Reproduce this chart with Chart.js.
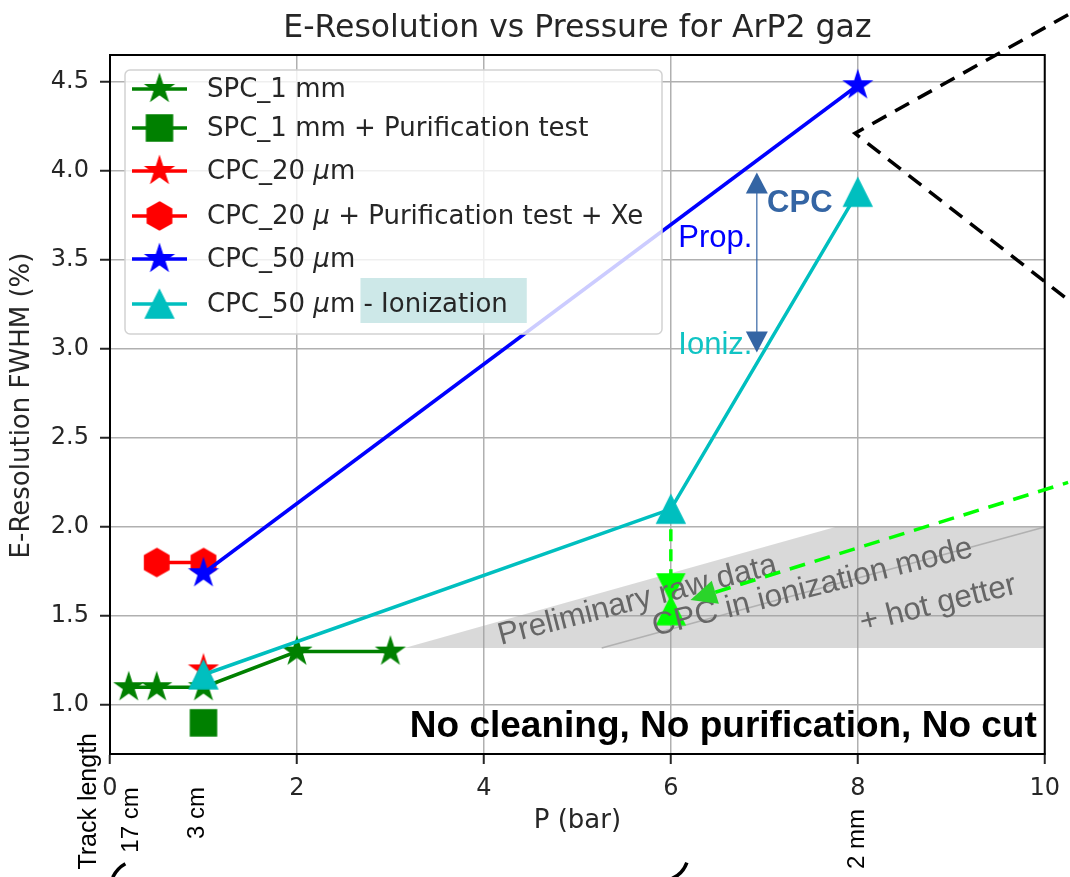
<!DOCTYPE html>
<html>
<head>
<meta charset="utf-8">
<title>E-Resolution vs Pressure for ArP2 gaz</title>
<script src="https://cdn.jsdelivr.net/npm/chart.js@4.4.1/dist/chart.umd.min.js"></script>
<style>
  html, body { margin: 0; padding: 0; background: #fff; }
  #wrap { width: 1070px; height: 877px; }
</style>
</head>
<body>
<div id="wrap"><canvas id="resChart" width="1070" height="877"></canvas></div>
<script>
// pressure (bar) vs FWHM energy resolution (%)
const spcP = [0.2, 0.5, 1, 2, 3];
const spcRes = [1.1, 1.1, 1.1, 1.3, 1.3];
const spcPurP = [1];
const spcPurRes = [0.9];
const cpc20P = [1];
const cpc20Res = [1.2];
const cpc20XeP = [0.5, 1];
const cpc20XeRes = [1.8, 1.8];
const cpc50P = [1, 8];
const cpc50Res = [1.74, 4.48];
const cpc50IonP = [1, 6, 8];
const cpc50IonRes = [1.17, 2.1, 3.88];
// 6 bar ionization point, before / after hot getter
const getterP = [6, 6];
const getterRes = [2.1, 1.66];
const getterAfterP = [6];
const getterAfterRes = [1.53];

const xTicks = [0, 2, 4, 6, 8, 10];
const yTicks = [1.0, 1.5, 2.0, 2.5, 3.0, 3.5, 4.0, 4.5];

const legendLabels = [
  "SPC_1 mm",
  "SPC_1 mm + Purification test",
  "CPC_20 μm",
  "CPC_20 μ + Purification test + Xe",
  "CPC_50 μm",
  "CPC_50 μm - Ionization"
];
const trackLabels = ["17 cm", "3 cm", "2 mm"];
const trackP = [0.23, 0.94, 8.0];

const GREEN = "#008000", RED = "#ff0000", BLUE = "#0000ff", CYAN = "#00bfbf", LIME = "#00ff00";
const MPL = '"DejaVu Sans"';
const PPT = '"Liberation Sans"';

function makeMarker(shape, color, size) {
  const pad = 3;
  const c = document.createElement("canvas");
  c.width = c.height = Math.ceil(size + pad * 2);
  const g = c.getContext("2d");
  const m = c.width / 2, r = size / 2;
  g.fillStyle = color;
  g.strokeStyle = color;
  g.lineWidth = 1.5;
  g.beginPath();
  if (shape === "star") {
    for (let i = 0; i < 10; i++) {
      const a = -Math.PI / 2 + i * Math.PI / 5;
      const rr = i % 2 ? r * 0.382 : r;
      g.lineTo(m + rr * Math.cos(a), m + rr * Math.sin(a));
    }
  } else if (shape === "hexagon") {
    for (let i = 0; i < 6; i++) {
      const a = -Math.PI / 2 + i * Math.PI / 3;
      g.lineTo(m + r * Math.cos(a), m + r * Math.sin(a));
    }
  } else if (shape === "up") {
    g.moveTo(m, m - r); g.lineTo(m + r, m + r); g.lineTo(m - r, m + r);
  } else if (shape === "down") {
    g.moveTo(m, m + r); g.lineTo(m + r, m - r); g.lineTo(m - r, m - r);
  } else {
    g.rect(m - r, m - r, size, size);
  }
  g.closePath();
  g.fill();
  g.stroke();
  return c;
}

const mk = {
  greenStar: makeMarker("star", GREEN, 28),
  greenSquare: makeMarker("square", GREEN, 26),
  redStar: makeMarker("star", RED, 28),
  redHex: makeMarker("hexagon", RED, 28),
  blueStar: makeMarker("star", BLUE, 28),
  cyanTri: makeMarker("up", CYAN, 28),
  limeDown: makeMarker("down", LIME, 27),
  limeUp: makeMarker("up", LIME, 28)
};

const legendStyle = [
  { color: GREEN, marker: mk.greenStar },
  { color: GREEN, marker: mk.greenSquare },
  { color: RED, marker: mk.redStar },
  { color: RED, marker: mk.redHex },
  { color: BLUE, marker: mk.blueStar },
  { color: CYAN, marker: mk.cyanTri }
];

const pts = (xs, ys) => xs.map((x, i) => ({ x: x, y: ys[i] }));

function series(data, color, marker, z) {
  return {
    data: data,
    showLine: true,
    borderColor: color,
    backgroundColor: color,
    borderWidth: 3.5,
    pointStyle: marker,
    pointRadius: 14,
    pointHoverRadius: 14,
    order: 20 - z
  };
}

// mixed text: "μ" in italic like matplotlib mathtext
function mixedWidth(ctx, s, size) {
  let w = 0;
  s.split("μ").forEach((p, i) => {
    if (i > 0) { ctx.font = "italic " + size + "px " + MPL; w += ctx.measureText("μ").width; }
    ctx.font = size + "px " + MPL; w += ctx.measureText(p).width;
  });
  return w;
}
function drawMixed(ctx, s, x, y, size) {
  let cx = x;
  s.split("μ").forEach((p, i) => {
    if (i > 0) {
      ctx.font = "italic " + size + "px " + MPL;
      ctx.fillText("μ", cx, y);
      cx += ctx.measureText("μ").width;
    }
    ctx.font = size + "px " + MPL;
    ctx.fillText(p, cx, y);
    cx += ctx.measureText(p).width;
  });
}

function text(ctx, s, x, y, font, color, align, baseline, angle) {
  ctx.save();
  ctx.translate(x, y);
  if (angle) ctx.rotate(angle);
  ctx.font = font;
  ctx.fillStyle = color;
  ctx.textAlign = align || "left";
  ctx.textBaseline = baseline || "alphabetic";
  ctx.fillText(s, 0, 0);
  ctx.restore();
}

function drawLegend(ctx, area) {
  const x0 = area.left + 15, y0 = area.top + 15, w = 537, h = 264;
  const rows = [34, 73, 116, 161, 204, 249];
  ctx.save();
  ctx.beginPath();
  ctx.roundRect(x0, y0, w, h, 5);
  ctx.fillStyle = "rgba(255,255,255,0.8)";
  ctx.fill();
  ctx.strokeStyle = "#d2d2d2";
  ctx.lineWidth = 1.5;
  ctx.stroke();
  legendLabels.forEach((lab, i) => {
    const y = area.top + rows[i];
    const st = legendStyle[i];
    ctx.strokeStyle = st.color;
    ctx.lineWidth = 3.5;
    ctx.beginPath();
    ctx.moveTo(x0 + 7, y);
    ctx.lineTo(x0 + 62, y);
    ctx.stroke();
    ctx.drawImage(st.marker, x0 + 34.5 - st.marker.width / 2, y - st.marker.height / 2);
    const tx = x0 + 82;
    const cut = lab.indexOf(" - ");
    if (cut > 0) {
      const pre = mixedWidth(ctx, lab.slice(0, cut + 1), 26);
      ctx.font = "26px " + MPL;
      const hw = ctx.measureText(lab.slice(cut + 1)).width;
      ctx.fillStyle = "#cde8e8";
      ctx.fillRect(tx + pre - 3, y - 26, hw + 22, 45);
    }
    ctx.fillStyle = "#262626";
    ctx.textBaseline = "middle";
    ctx.textAlign = "left";
    drawMixed(ctx, lab, tx, y + 1, 26);
  });
  ctx.restore();
}

function arrowHead(ctx, tipX, tipY, dirX, dirY, len, half) {
  const n = Math.hypot(dirX, dirY);
  const ux = dirX / n, uy = dirY / n;
  const bx = tipX - ux * len, by = tipY - uy * len;
  ctx.beginPath();
  ctx.moveTo(tipX, tipY);
  ctx.lineTo(bx - uy * half, by + ux * half);
  ctx.lineTo(bx + uy * half, by - ux * half);
  ctx.closePath();
  ctx.fill();
  return [bx, by];
}

const decor = {
  id: "decor",
  beforeDraw(chart) {
    const c = chart.ctx;
    c.save();
    c.fillStyle = "#ffffff";
    c.fillRect(0, 0, chart.width, chart.height);
    c.restore();
  },
  beforeDatasetsDraw(chart) {
    const c = chart.ctx, xs = chart.scales.x, ys = chart.scales.y, a = chart.chartArea;
    const px = v => xs.getPixelForValue(v), py = v => ys.getPixelForValue(v);
    c.save();
    c.beginPath();
    c.rect(a.left, a.top, a.right - a.left, a.bottom - a.top);
    c.clip();
    // preliminary band
    c.fillStyle = "rgba(160,160,160,0.4)";
    c.beginPath();
    c.moveTo(px(3.15), py(1.32));
    c.lineTo(px(7.76), py(2.0));
    c.lineTo(px(10), py(2.0));
    c.lineTo(px(10), py(1.32));
    c.closePath();
    c.fill();
    c.strokeStyle = "rgba(150,150,150,0.6)";
    c.lineWidth = 1.5;
    c.beginPath();
    c.moveTo(px(5.26), py(1.32));
    c.lineTo(px(10), py(2.0));
    c.stroke();
    c.restore();
  },
  afterDatasetsDraw(chart) {
    const c = chart.ctx, xs = chart.scales.x, ys = chart.scales.y, a = chart.chartArea;
    const px = v => xs.getPixelForValue(v), py = v => ys.getPixelForValue(v);
    const ang = -14 * Math.PI / 180;
    text(c, "Preliminary raw data", px(4.18), py(1.337), "31.5px " + PPT, "#666666", "left", "alphabetic", -14.5 * Math.PI / 180);
    text(c, "CPC in ionization mode", px(5.83), py(1.388), "31.5px " + PPT, "#666666", "left", "alphabetic", ang);
    text(c, "+ hot getter", px(8.05), py(1.41), "31.5px " + PPT, "#666666", "left", "alphabetic", ang);
    drawLegend(c, a);
  },
  afterDraw(chart) {
    const c = chart.ctx, xs = chart.scales.x, ys = chart.scales.y, a = chart.chartArea;
    const px = v => xs.getPixelForValue(v), py = v => ys.getPixelForValue(v);
    const midX = (a.left + a.right) / 2;
    c.save();
    // frame
    c.strokeStyle = "#000";
    c.lineWidth = 2;
    c.strokeRect(a.left, a.top, a.right - a.left, a.bottom - a.top);

    // titles
    text(c, "E-Resolution vs Pressure for ArP2 gaz", midX, a.top - 18, "31.5px " + MPL, "#262626", "center", "alphabetic");
    text(c, "P (bar)", midX, a.bottom + 67, "26px " + MPL, "#262626", "center", "middle");
    text(c, "E-Resolution FWHM (%)", 22, (a.top + a.bottom) / 2 + 1, "26px " + MPL, "#262626", "center", "middle", -Math.PI / 2);

    // Prop. / Ioniz. arrow
    text(c, "Prop.", px(6.08), py(3.57), "31px " + PPT, BLUE, "left", "alphabetic");
    text(c, "Ioniz.", px(6.08), py(2.972), "31px " + PPT, "#10c4c4", "left", "alphabetic");
    text(c, "CPC", px(7.03), py(3.77), "bold 31px " + PPT, "#3465a4", "left", "alphabetic");
    const ax = px(6.92), ay1 = py(3.99), ay2 = py(2.98);
    c.fillStyle = "#3465a4";
    c.strokeStyle = "#3465a4";
    c.lineWidth = 1.2;
    c.beginPath();
    c.moveTo(ax, ay1 + 15);
    c.lineTo(ax, ay2 - 15);
    c.stroke();
    arrowHead(c, ax, ay1, 0, -1, 21, 11);
    arrowHead(c, ax, ay2, 0, 1, 21, 11);

    // statement
    text(c, "No cleaning, No purification, No cut", px(9.915), py(0.82), "bold 37px " + PPT, "#000", "right", "alphabetic");

    // track lengths under the axis
    text(c, "Track length", px(-0.22), py(0.843), "25px " + PPT, "#000", "right", "middle", -Math.PI / 2);
    const off = [66, 59, 85];
    trackLabels.forEach((s, i) => {
      text(c, s, px(trackP[i]), a.bottom + off[i], "24px " + PPT, "#000", "center", "middle", -Math.PI / 2);
    });
    c.strokeStyle = "#000";
    c.lineWidth = 3.5;
    c.beginPath();
    c.arc(px(0.32), a.bottom + 136, 30, 205 * Math.PI / 180, 241 * Math.PI / 180);
    c.stroke();
    c.beginPath();
    c.arc(px(5.89), a.bottom + 99, 28, 20 * Math.PI / 180, 70 * Math.PI / 180);
    c.stroke();

    // zoom callout
    c.setLineDash([16, 10]);
    c.lineWidth = 3.5;
    c.beginPath();
    c.moveTo(px(10.25), py(4.876));
    c.lineTo(px(7.97), py(4.21));
    c.lineTo(px(10.25), py(3.275));
    c.stroke();

    // hot getter pointer
    const tipX = px(6.21), tipY = py(1.59), endX = px(10.25), endY = py(2.25);
    c.setLineDash([]);
    c.fillStyle = "#2ad42a";
    const base = arrowHead(c, tipX, tipY, tipX - endX, tipY - endY, 26, 12);
    c.setLineDash([16, 10]);
    c.strokeStyle = LIME;
    c.lineWidth = 3.5;
    c.beginPath();
    c.moveTo(base[0], base[1]);
    c.lineTo(endX, endY);
    c.stroke();
    c.restore();
  }
};

const getterLine = series(pts(getterP, getterRes), LIME, mk.limeDown, 0);
getterLine.borderDash = [12, 8];
getterLine.pointRadius = [0, 14];
const getterAfter = series(pts(getterAfterP, getterAfterRes), LIME, mk.limeUp, 1);
getterAfter.showLine = false;

new Chart(document.getElementById("resChart"), {
  type: "scatter",
  data: {
    datasets: [
      getterLine,
      getterAfter,
      series(pts(spcP, spcRes), GREEN, mk.greenStar, 2),
      series(pts(spcPurP, spcPurRes), GREEN, mk.greenSquare, 3),
      series(pts(cpc20P, cpc20Res), RED, mk.redStar, 4),
      series(pts(cpc20XeP, cpc20XeRes), RED, mk.redHex, 5),
      series(pts(cpc50P, cpc50Res), BLUE, mk.blueStar, 6),
      series(pts(cpc50IonP, cpc50IonRes), CYAN, mk.cyanTri, 7)
    ]
  },
  options: {
    responsive: false,
    animation: false,
    devicePixelRatio: 1,
    layout: { padding: { top: 55, right: 23, left: 0, bottom: 0 } },
    plugins: {
      legend: { display: false },
      tooltip: { enabled: false },
      title: { display: false }
    },
    scales: {
      x: {
        type: "linear",
        min: 0,
        max: 10,
        afterFit: s => { s.height = 123; },
        afterBuildTicks: s => { s.ticks = xTicks.map(v => ({ value: v })); },
        ticks: {
          font: { family: "DejaVu Sans", size: 24 },
          color: "#262626",
          padding: 10,
          maxRotation: 0,
          callback: v => String(v)
        },
        grid: { color: "#b0b0b0", lineWidth: 1.5, tickColor: "#262626", tickLength: 10, tickWidth: 2 },
        border: { color: "#000", width: 2 }
      },
      y: {
        type: "linear",
        min: 0.725,
        max: 4.65,
        afterFit: s => { s.width = 110; },
        afterBuildTicks: s => { s.ticks = yTicks.map(v => ({ value: v })); },
        ticks: {
          font: { family: "DejaVu Sans", size: 24 },
          color: "#262626",
          padding: 11,
          callback: v => Number(v).toFixed(1)
        },
        grid: { color: "#b0b0b0", lineWidth: 1.5, tickColor: "#262626", tickLength: 10, tickWidth: 2 },
        border: { color: "#000", width: 2 }
      }
    }
  },
  plugins: [decor]
});
</script>
</body>
</html>
